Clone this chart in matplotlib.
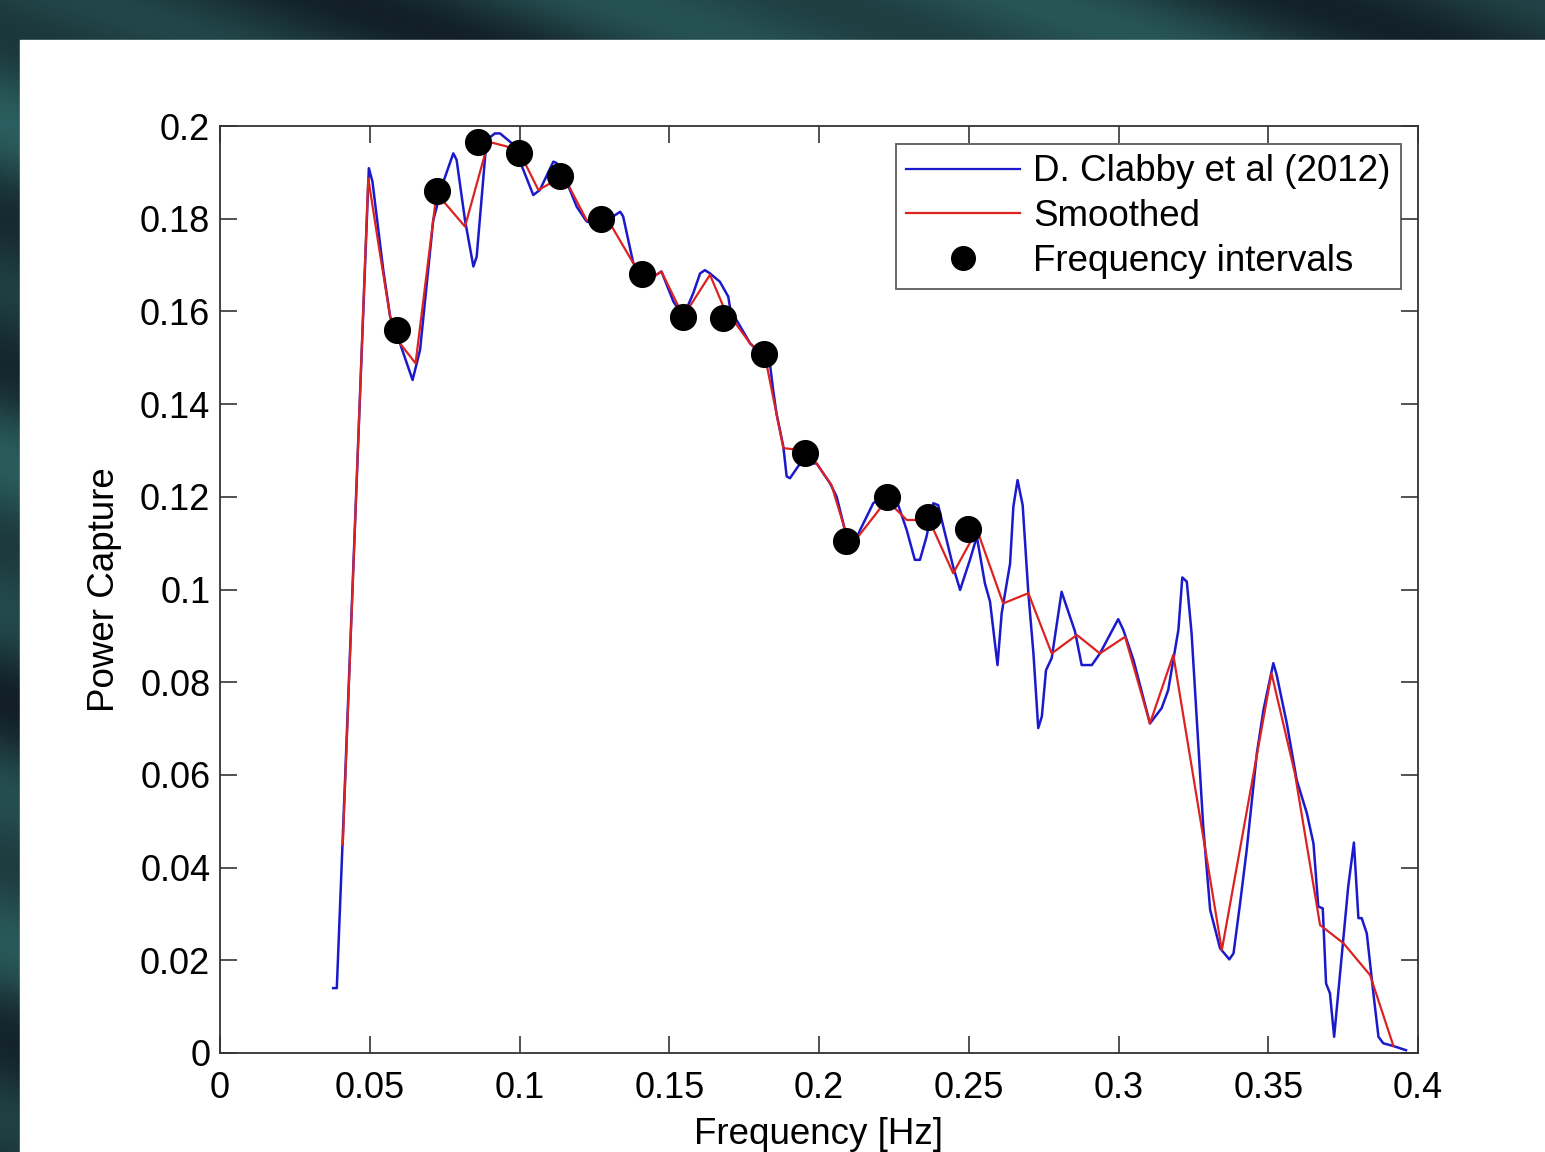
import numpy as np
import matplotlib
matplotlib.use("Agg")
import matplotlib.pyplot as plt
from matplotlib.lines import Line2D

# ---------------- data ----------------
clabby_freq = [0.0378, 0.0390, 0.0420, 0.0497, 0.0509, 0.0545, 0.0568, 0.0601, 0.0643,
               0.0668, 0.0712, 0.0746, 0.0779, 0.0790, 0.0818, 0.0846, 0.0857, 0.0890,
               0.0918, 0.0935, 0.0974, 0.1013, 0.1046, 0.1068, 0.1113, 0.1124, 0.1157,
               0.1191, 0.1224, 0.1269, 0.1313, 0.1336, 0.1346, 0.1380, 0.1447, 0.1474,
               0.1514, 0.1547, 0.1580, 0.1603, 0.1619, 0.1636, 0.1669, 0.1697, 0.1708,
               0.1725, 0.1770, 0.1792, 0.1836, 0.1847, 0.1858, 0.1881, 0.1892, 0.1903,
               0.1937, 0.1992, 0.2037, 0.2059, 0.2081, 0.2104, 0.2137, 0.2181, 0.2226,
               0.2248, 0.2259, 0.2293, 0.2320, 0.2337, 0.2359, 0.2382, 0.2398, 0.2415,
               0.2448, 0.2471, 0.2504, 0.2527, 0.2554, 0.2571, 0.2596, 0.2610, 0.2638,
               0.2649, 0.2663, 0.2680, 0.2699, 0.2716, 0.2732, 0.2744, 0.2758, 0.2777,
               0.2810, 0.2855, 0.2877, 0.2911, 0.2938, 0.2999, 0.3016, 0.3050, 0.3105,
               0.3144, 0.3166, 0.3200, 0.3213, 0.3228, 0.3244, 0.3266, 0.3283, 0.3306,
               0.3339, 0.3370, 0.3384, 0.3406, 0.3428, 0.3462, 0.3484, 0.3517, 0.3528,
               0.3562, 0.3595, 0.3629, 0.3651, 0.3667, 0.3682, 0.3693, 0.3706, 0.3720,
               0.3740, 0.3767, 0.3786, 0.3801, 0.3812, 0.3829, 0.3851, 0.3868, 0.3884,
               0.3918, 0.3960]
clabby_power = [0.0140, 0.0140, 0.0630, 0.1909, 0.1880, 0.1690, 0.1589, 0.1531, 0.1452,
                0.1517, 0.1797, 0.1880, 0.1941, 0.1927, 0.1797, 0.1697, 0.1718, 0.1970,
                0.1984, 0.1984, 0.1963, 0.1905, 0.1851, 0.1862, 0.1923, 0.1920, 0.1880,
                0.1826, 0.1794, 0.1790, 0.1805, 0.1815, 0.1805, 0.1704, 0.1675, 0.1686,
                0.1621, 0.1589, 0.1639, 0.1682, 0.1689, 0.1682, 0.1664, 0.1632, 0.1589,
                0.1581, 0.1531, 0.1517, 0.1488, 0.1430, 0.1380, 0.1308, 0.1244, 0.1240,
                0.1272, 0.1272, 0.1229, 0.1200, 0.1143, 0.1078, 0.1128, 0.1186, 0.1208,
                0.1222, 0.1193, 0.1128, 0.1064, 0.1064, 0.1114, 0.1186, 0.1182, 0.1136,
                0.1049, 0.0999, 0.1064, 0.1114, 0.1013, 0.0974, 0.0837, 0.0949, 0.1056,
                0.1179, 0.1236, 0.1182, 0.0992, 0.0862, 0.0701, 0.0726, 0.0826, 0.0852,
                0.0995, 0.0909, 0.0837, 0.0837, 0.0862, 0.0936, 0.0913, 0.0848, 0.0711,
                0.0744, 0.0783, 0.0913, 0.1026, 0.1017, 0.0906, 0.0668, 0.0488, 0.0309,
                0.0226, 0.0202, 0.0215, 0.0323, 0.0438, 0.0647, 0.0740, 0.0841, 0.0816,
                0.0711, 0.0589, 0.0517, 0.0452, 0.0316, 0.0312, 0.0150, 0.0129, 0.0035,
                0.0172, 0.0359, 0.0454, 0.0291, 0.0291, 0.0258, 0.0129, 0.0035, 0.0021,
                0.0015, 0.0006]

smooth_freq = [0.0410, 0.0495, 0.0534, 0.0568, 0.0601, 0.0653, 0.0723, 0.0818, 0.0896,
               0.0957, 0.1002, 0.1063, 0.1113, 0.1157, 0.1224, 0.1269, 0.1302, 0.1380,
               0.1447, 0.1474, 0.1547, 0.1636, 0.1681, 0.1770, 0.1820, 0.1881, 0.1937,
               0.1992, 0.2042, 0.2104, 0.2226, 0.2293, 0.2337, 0.2365, 0.2448, 0.2515,
               0.2532, 0.2615, 0.2699, 0.2777, 0.2861, 0.2938, 0.3022, 0.3105, 0.3183,
               0.3345, 0.3511, 0.3589, 0.3673, 0.3751, 0.3840, 0.3918]
smooth_power = [0.0449, 0.1887, 0.1725, 0.1589, 0.1531, 0.1488, 0.1855, 0.1783, 0.1966,
                0.1956, 0.1941, 0.1862, 0.1880, 0.1880, 0.1797, 0.1794, 0.1790, 0.1704,
                0.1675, 0.1686, 0.1589, 0.1679, 0.1610, 0.1531, 0.1502, 0.1305, 0.1301,
                0.1272, 0.1225, 0.1092, 0.1193, 0.1150, 0.1150, 0.1154, 0.1035, 0.1114,
                0.1121, 0.0970, 0.0992, 0.0862, 0.0902, 0.0862, 0.0898, 0.0711, 0.0859,
                0.0222, 0.0819, 0.0603, 0.0276, 0.0237, 0.0168, 0.0015]

interval_freq = [0.0591, 0.0725, 0.0861, 0.0998, 0.1135, 0.1272, 0.1409, 0.1546, 0.1680,
                 0.1816, 0.1953, 0.2090, 0.2227, 0.2364, 0.2497]
interval_power = [0.1560, 0.1860, 0.1965, 0.1942, 0.1892, 0.1799, 0.1681, 0.1588, 0.1586,
                  0.1508, 0.1294, 0.1105, 0.1200, 0.1156, 0.1131]

x_ticks = [0, 0.05, 0.1, 0.15, 0.2, 0.25, 0.3, 0.35, 0.4]
x_tick_labels = ["0", "0.05", "0.1", "0.15", "0.2", "0.25", "0.3", "0.35", "0.4"]
y_ticks = [0, 0.02, 0.04, 0.06, 0.08, 0.1, 0.12, 0.14, 0.16, 0.18, 0.2]
y_tick_labels = ["0", "0.02", "0.04", "0.06", "0.08", "0.1", "0.12", "0.14", "0.16", "0.18", "0.2"]

legend_labels = ["D. Clabby et al (2012)", "Smoothed", "Frequency intervals"]

# ---------------- figure ----------------
plt.rcParams['font.family'] = ['Liberation Sans', 'DejaVu Sans']
W, H = 1545, 1152
fig = plt.figure(figsize=(W / 100, H / 100), dpi=100)

# decorative slide background (dark teal diagonal streaks)
bg = fig.add_axes([0, 0, 1, 1])
bg.set_axis_off()
yy, xx = np.mgrid[0:H:2, 0:W:2]
t = (xx * 0.35 - yy * 1.0)
s = 0.5 + 0.5 * np.sin(t / 90.0) * np.cos(t / 37.0)
dark = np.array([0.07, 0.12, 0.15])
teal = np.array([0.17, 0.37, 0.37])
img = dark[None, None, :] * (1 - s[..., None]) + teal[None, None, :] * s[..., None]
bg.imshow(img, extent=[0, W, H, 0], aspect='auto')
bg.add_patch(plt.Rectangle((20, 40), W - 20, H - 40, color='white', zorder=2))
bg.set_xlim(0, W)
bg.set_ylim(H, 0)

ax = fig.add_axes([220 / W, (H - 1053) / H, (1418 - 220) / W, (1053 - 126) / H])
ax.set_facecolor('white')

ax.plot(clabby_freq, clabby_power, color='#1a1acc', lw=1.8, label=legend_labels[0])
ax.plot(smooth_freq, smooth_power, color='#dd2222', lw=1.6, label=legend_labels[1])
ax.plot(interval_freq, interval_power, 'o', color='black', ms=18.5,
        linestyle='none', label=legend_labels[2], zorder=5)

ax.set_xlim(0, 0.4)
ax.set_ylim(0, 0.2)
ax.set_xticks(x_ticks)
ax.set_xticklabels(x_tick_labels)
ax.set_yticks(y_ticks)
ax.set_yticklabels(y_tick_labels)
ax.tick_params(axis='both', direction='in', length=12, width=1.2, top=True, right=True,
               labelsize=26, color='#333333')
ax.tick_params(axis='x', pad=13)
ax.tick_params(axis='y', pad=7)
for sp in ax.spines.values():
    sp.set_linewidth(1.3)
    sp.set_color('#333333')

ax.set_xlabel("Frequency [Hz]", fontsize=26.5, labelpad=8)
ax.set_ylabel("Power Capture", fontsize=26.5, labelpad=13)

handles = [Line2D([0], [0], color='#1a1acc', lw=1.6),
           Line2D([0], [0], color='#dd2222', lw=1.6),
           Line2D([0], [0], marker='o', color='black', ms=17, linestyle='none')]
leg = ax.legend(handles, legend_labels, loc='upper right', fontsize=26.5,
                bbox_to_anchor=(0.9858, 0.9805), frameon=True, fancybox=False,
                handlelength=3.1, handletextpad=0.35, borderpad=0.28, labelspacing=0.26,
                borderaxespad=0)
leg.get_frame().set_edgecolor('#333333')
leg.get_frame().set_linewidth(1.3)

fig.savefig("out.png", dpi=100)
